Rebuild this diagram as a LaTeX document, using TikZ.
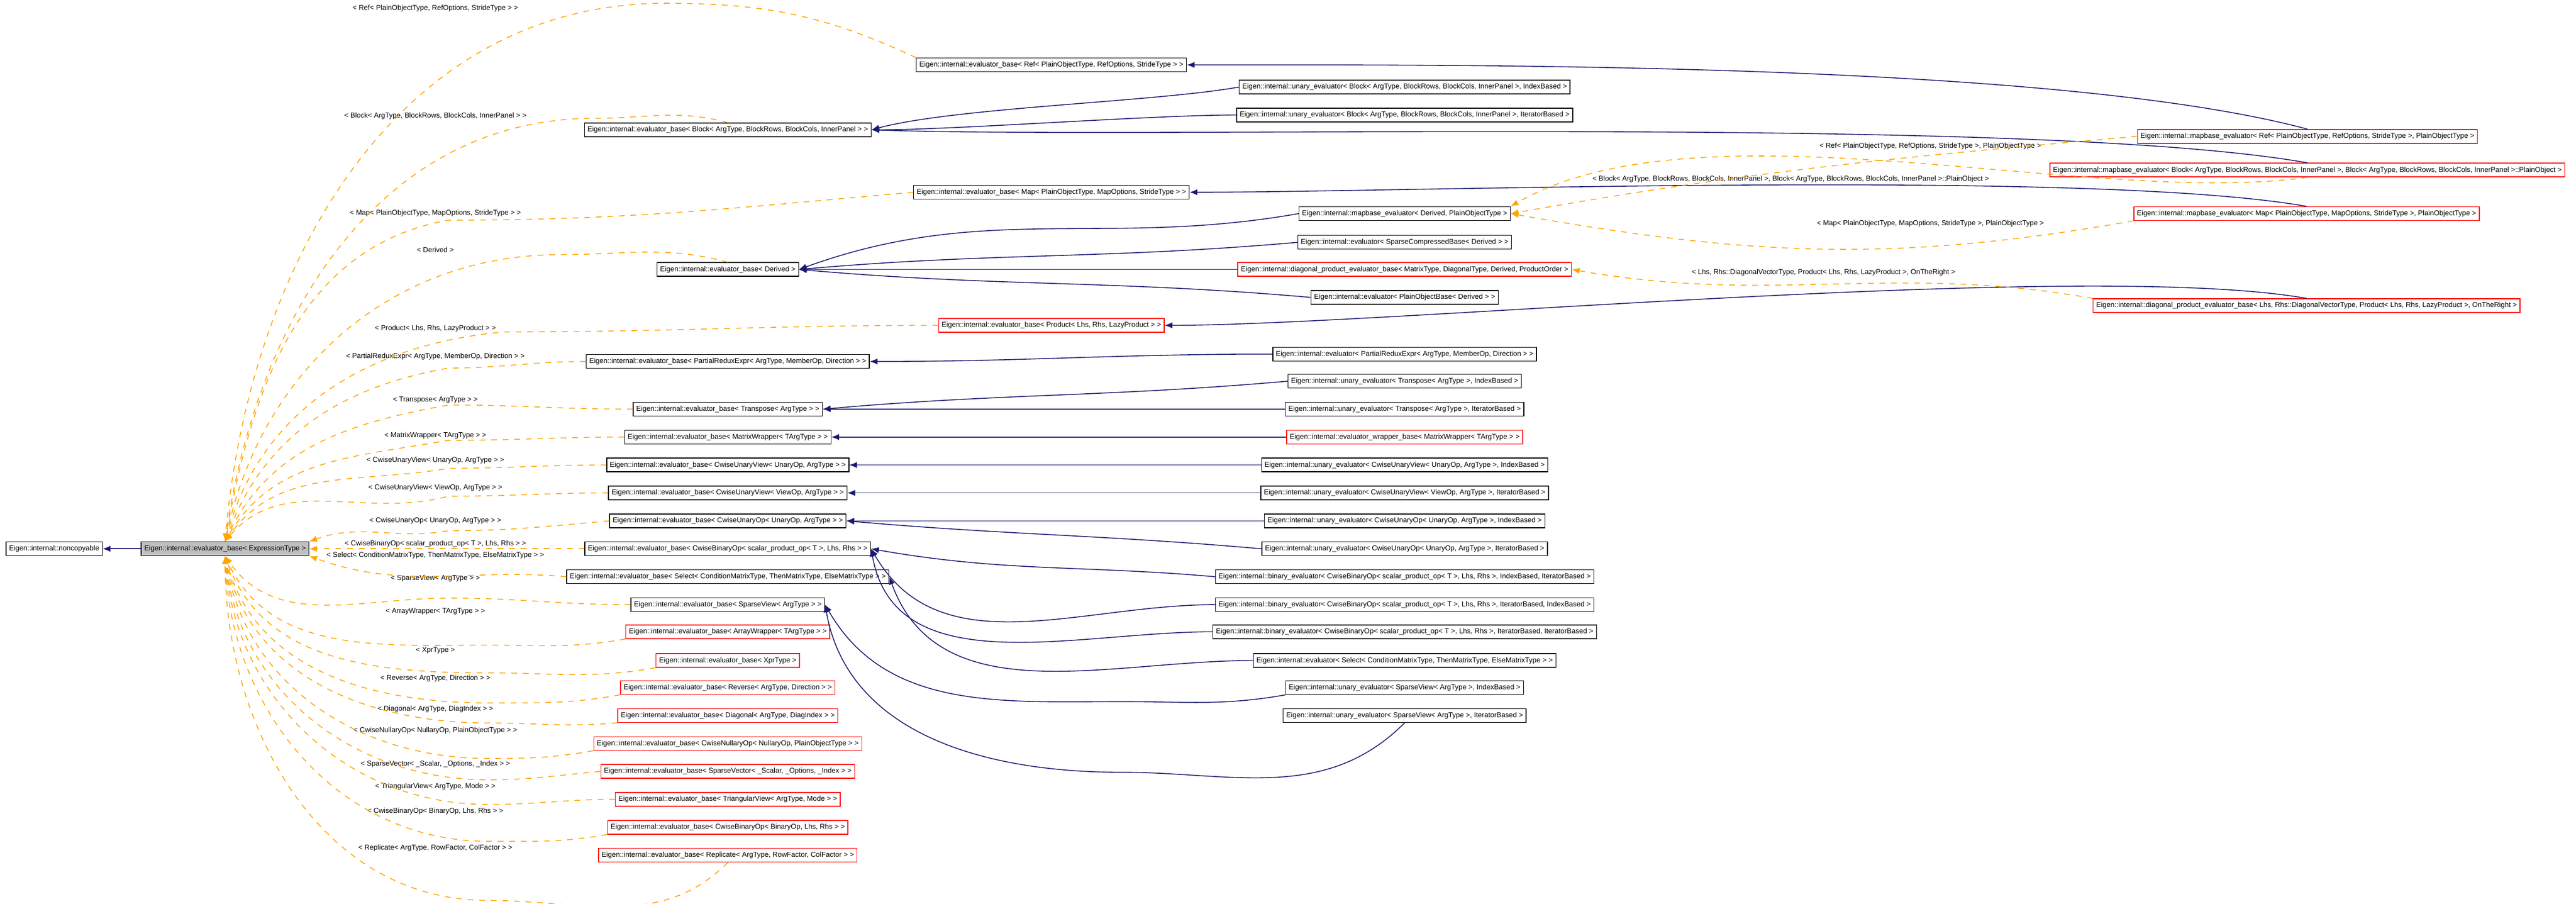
\documentclass[tikz,border=0pt]{standalone}
\usepackage{fontspec}
\setmainfont{Liberation Sans}
\usetikzlibrary{arrows.meta}
\definecolor{edgeblue}{HTML}{191970}
\definecolor{edgeorange}{HTML}{FFA500}
\tikzset{
  cls/.style={draw=black,fill=white,rectangle,inner xsep=1.6pt,inner ysep=0pt,minimum height=0.25cm,font=\fontsize{3.7}{4}\selectfont},
  redcls/.style={cls,draw=red},
  curcls/.style={cls,fill=black!25},
  lbl/.style={inner sep=0pt,font=\fontsize{3.7}{4}\selectfont},
  inh/.style={edgeblue,line width=0.45pt,-{Latex[length=4pt,width=3.2pt]}},
  tmpl/.style={edgeorange,dashed,line width=0.45pt,-{Latex[length=4pt,width=3.2pt]}}
}
\begin{document}
\begin{tikzpicture}[x=0.02992cm,y=-0.02992cm]
\useasboundingbox (0,0) rectangle (1568,550);
% left
\node[cls] (noncp) at (33,334) {Eigen::internal::noncopyable};
\node[curcls] (exprb) at (137,334) {Eigen::internal::evaluator\_base< ExpressionType >};
% instantiations of evaluator_base
\node[cls] (refb) at (640,39.5) {Eigen::internal::evaluator\_base< Ref< PlainObjectType, RefOptions, StrideType > >};
\node[cls] (blockb) at (443,79) {Eigen::internal::evaluator\_base< Block< ArgType, BlockRows, BlockCols, InnerPanel > >};
\node[cls] (mapb) at (640,117) {Eigen::internal::evaluator\_base< Map< PlainObjectType, MapOptions, StrideType > >};
\node[cls] (derivb) at (443,164) {Eigen::internal::evaluator\_base< Derived >};
\node[redcls] (prodb) at (640,198) {Eigen::internal::evaluator\_base< Product< Lhs, Rhs, LazyProduct > >};
\node[cls] (predb) at (443,220) {Eigen::internal::evaluator\_base< PartialReduxExpr< ArgType, MemberOp, Direction > >};
\node[cls] (transb) at (443,249) {Eigen::internal::evaluator\_base< Transpose< ArgType > >};
\node[cls] (mwrapb) at (443,266) {Eigen::internal::evaluator\_base< MatrixWrapper< TArgType > >};
\node[cls] (cuvub) at (443,283) {Eigen::internal::evaluator\_base< CwiseUnaryView< UnaryOp, ArgType > >};
\node[cls] (cuvvb) at (443,300) {Eigen::internal::evaluator\_base< CwiseUnaryView< ViewOp, ArgType > >};
\node[cls] (cuob) at (443,317) {Eigen::internal::evaluator\_base< CwiseUnaryOp< UnaryOp, ArgType > >};
\node[cls] (cbosb) at (443,334) {Eigen::internal::evaluator\_base< CwiseBinaryOp< scalar\_product\_op< T >, Lhs, Rhs > >};
\node[cls] (selb) at (443,351) {Eigen::internal::evaluator\_base< Select< ConditionMatrixType, ThenMatrixType, ElseMatrixType > >};
\node[cls] (spvb) at (443,368) {Eigen::internal::evaluator\_base< SparseView< ArgType > >};
\node[redcls] (awrapb) at (443,384.5) {Eigen::internal::evaluator\_base< ArrayWrapper< TArgType > >};
\node[redcls] (xprb) at (443,402) {Eigen::internal::evaluator\_base< XprType >};
\node[redcls] (revb) at (443,418.5) {Eigen::internal::evaluator\_base< Reverse< ArgType, Direction > >};
\node[redcls] (diagb) at (443,435.5) {Eigen::internal::evaluator\_base< Diagonal< ArgType, DiagIndex > >};
\node[redcls] (cnob) at (443,452.5) {Eigen::internal::evaluator\_base< CwiseNullaryOp< NullaryOp, PlainObjectType > >};
\node[redcls] (spvecb) at (443,469.5) {Eigen::internal::evaluator\_base< SparseVector< \_Scalar, \_Options, \_Index > >};
\node[redcls] (trib) at (443,486.5) {Eigen::internal::evaluator\_base< TriangularView< ArgType, Mode > >};
\node[redcls] (cbob) at (443,503.5) {Eigen::internal::evaluator\_base< CwiseBinaryOp< BinaryOp, Lhs, Rhs > >};
\node[redcls] (repb) at (443,520.5) {Eigen::internal::evaluator\_base< Replicate< ArgType, RowFactor, ColFactor > >};
% evaluators
\node[cls] (ublki) at (855,53) {Eigen::internal::unary\_evaluator< Block< ArgType, BlockRows, BlockCols, InnerPanel >, IndexBased >};
\node[cls] (ublkit) at (855,70) {Eigen::internal::unary\_evaluator< Block< ArgType, BlockRows, BlockCols, InnerPanel >, IteratorBased >};
\node[cls] (mapbe) at (855,130) {Eigen::internal::mapbase\_evaluator< Derived, PlainObjectType >};
\node[cls] (spcomp) at (855,147.5) {Eigen::internal::evaluator< SparseCompressedBase< Derived > >};
\node[redcls] (diagpe) at (855,164) {Eigen::internal::diagonal\_product\_evaluator\_base< MatrixType, DiagonalType, Derived, ProductOrder >};
\node[cls] (pobase) at (855,181) {Eigen::internal::evaluator< PlainObjectBase< Derived > >};
\node[cls] (predev) at (855,215.5) {Eigen::internal::evaluator< PartialReduxExpr< ArgType, MemberOp, Direction > >};
\node[cls] (utri) at (855,232) {Eigen::internal::unary\_evaluator< Transpose< ArgType >, IndexBased >};
\node[cls] (utrit) at (855,249) {Eigen::internal::unary\_evaluator< Transpose< ArgType >, IteratorBased >};
\node[redcls] (mwrapev) at (855,266) {Eigen::internal::evaluator\_wrapper\_base< MatrixWrapper< TArgType > >};
\node[cls] (ucuvu) at (855,283) {Eigen::internal::unary\_evaluator< CwiseUnaryView< UnaryOp, ArgType >, IndexBased >};
\node[cls] (ucuvv) at (855,300) {Eigen::internal::unary\_evaluator< CwiseUnaryView< ViewOp, ArgType >, IteratorBased >};
\node[cls] (ucuoi) at (855,317) {Eigen::internal::unary\_evaluator< CwiseUnaryOp< UnaryOp, ArgType >, IndexBased >};
\node[cls] (ucuoit) at (855,334) {Eigen::internal::unary\_evaluator< CwiseUnaryOp< UnaryOp, ArgType >, IteratorBased >};
\node[cls] (binit) at (855,351) {Eigen::internal::binary\_evaluator< CwiseBinaryOp< scalar\_product\_op< T >, Lhs, Rhs >, IndexBased, IteratorBased >};
\node[cls] (bitin) at (855,368) {Eigen::internal::binary\_evaluator< CwiseBinaryOp< scalar\_product\_op< T >, Lhs, Rhs >, IteratorBased, IndexBased >};
\node[cls] (bitit) at (855,384.5) {Eigen::internal::binary\_evaluator< CwiseBinaryOp< scalar\_product\_op< T >, Lhs, Rhs >, IteratorBased, IteratorBased >};
\node[cls] (selev) at (855,402) {Eigen::internal::evaluator< Select< ConditionMatrixType, ThenMatrixType, ElseMatrixType > >};
\node[cls] (uspvi) at (855,418.5) {Eigen::internal::unary\_evaluator< SparseView< ArgType >, IndexBased >};
\node[cls] (uspvit) at (855,435.5) {Eigen::internal::unary\_evaluator< SparseView< ArgType >, IteratorBased >};
% right
\node[redcls] (mbref) at (1404.5,83) {Eigen::internal::mapbase\_evaluator< Ref< PlainObjectType, RefOptions, StrideType >, PlainObjectType >};
\node[redcls] (mbblk) at (1404.5,103.5) {Eigen::internal::mapbase\_evaluator< Block< ArgType, BlockRows, BlockCols, InnerPanel >, Block< ArgType, BlockRows, BlockCols, InnerPanel >::PlainObject >};
\node[redcls] (mbmap) at (1404,130) {Eigen::internal::mapbase\_evaluator< Map< PlainObjectType, MapOptions, StrideType >, PlainObjectType >};
\node[redcls] (diagrt) at (1404,186) {Eigen::internal::diagonal\_product\_evaluator\_base< Lhs, Rhs::DiagonalVectorType, Product< Lhs, Rhs, LazyProduct >, OnTheRight >};
% template labels
\node[lbl] (lref) at (265,5) {< Ref< PlainObjectType, RefOptions, StrideType > >};
\node[lbl] (lblock) at (265,70.5) {< Block< ArgType, BlockRows, BlockCols, InnerPanel > >};
\node[lbl] (lmap) at (265,129.7) {< Map< PlainObjectType, MapOptions, StrideType > >};
\node[lbl] (lderiv) at (265,152) {< Derived >};
\node[lbl] (lprod) at (265,200) {< Product< Lhs, Rhs, LazyProduct > >};
\node[lbl] (lpred) at (265,217) {< PartialReduxExpr< ArgType, MemberOp, Direction > >};
\node[lbl] (ltrans) at (265,243.5) {< Transpose< ArgType > >};
\node[lbl] (lmwrap) at (265,265) {< MatrixWrapper< TArgType > >};
\node[lbl] (lcuvu) at (265,280) {< CwiseUnaryView< UnaryOp, ArgType > >};
\node[lbl] (lcuvv) at (265,297) {< CwiseUnaryView< ViewOp, ArgType > >};
\node[lbl] (lcuo) at (265,317) {< CwiseUnaryOp< UnaryOp, ArgType > >};
\node[lbl] (lcbos) at (265,331) {< CwiseBinaryOp< scalar\_product\_op< T >, Lhs, Rhs > >};
\node[lbl] (lsel) at (265,338) {< Select< ConditionMatrixType, ThenMatrixType, ElseMatrixType > >};
\node[lbl] (lspv) at (265,352) {< SparseView< ArgType > >};
\node[lbl] (lawrap) at (265,372) {< ArrayWrapper< TArgType > >};
\node[lbl] (lxpr) at (265,396) {< XprType >};
\node[lbl] (lrev) at (265,413) {< Reverse< ArgType, Direction > >};
\node[lbl] (ldiag) at (265,431.6) {< Diagonal< ArgType, DiagIndex > >};
\node[lbl] (lcno) at (265,444.5) {< CwiseNullaryOp< NullaryOp, PlainObjectType > >};
\node[lbl] (lspvec) at (265,465) {< SparseVector< \_Scalar, \_Options, \_Index > >};
\node[lbl] (ltri) at (265,478.6) {< TriangularView< ArgType, Mode > >};
\node[lbl] (lcbo) at (265,493.6) {< CwiseBinaryOp< BinaryOp, Lhs, Rhs > >};
\node[lbl] (lrep) at (265,516) {< Replicate< ArgType, RowFactor, ColFactor > >};
\node[lbl] (lmbref) at (1175,89) {< Ref< PlainObjectType, RefOptions, StrideType >, PlainObjectType >};
\node[lbl] (lmbblk) at (1090,109) {< Block< ArgType, BlockRows, BlockCols, InnerPanel >, Block< ArgType, BlockRows, BlockCols, InnerPanel >::PlainObject >};
\node[lbl] (lmbmap) at (1175,136) {< Map< PlainObjectType, MapOptions, StrideType >, PlainObjectType >};
\node[lbl] (ldiagrt) at (1110,166) {< Lhs, Rhs::DiagonalVectorType, Product< Lhs, Rhs, LazyProduct >, OnTheRight >};
% waypoints of the template edges
\coordinate (wref) at (405,2);
\coordinate (wblock) at (362,72);
\coordinate (wmap) at (273,134);
\coordinate (wderiv) at (341,155);
\coordinate (wprod) at (307,202);
\coordinate (wpred) at (273,224);
\coordinate (wtrans) at (273,246.5);
\coordinate (wmwrap) at (273,268);
\coordinate (wcuvu) at (273,285);
\coordinate (wcuvv) at (273,302);
\coordinate (wcuo) at (273,323);
\coordinate (wspv) at (273,364);
\coordinate (wawrap) at (297,392.6);
\coordinate (wxpr) at (297,409.5);
\coordinate (wrev) at (297,427.8);
\coordinate (wdiag) at (297,440);
\coordinate (wcno) at (297,461.6);
\coordinate (wspvec) at (297,474.6);
\coordinate (wtri) at (297,489.6);
\coordinate (wcbo) at (297,512);
\coordinate (wrep) at (297,548);
\coordinate (wspvi) at (684,427);
\coordinate (wspvit) at (682,470);
% inheritance
\draw[inh] (exprb) -- (noncp);
\draw[inh] (mbref.north) to[out=165,in=0,looseness=0.6] (refb.east);
\draw[inh] (ublki.west) to[out=190,in=15,looseness=0.6] (blockb.east);
\draw[inh] (ublkit.west) to[out=180,in=0,looseness=0.6] (blockb.east);
\draw[inh] (mbblk.north) to[out=170,in=-2,looseness=0.5] (blockb.east);
\draw[inh] (mbmap.north) to[out=170,in=0,looseness=0.5] (mapb.east);
\draw[inh] (mapbe.west) to[out=190,in=20] (derivb.east);
\draw[inh] (spcomp.west) to[out=185,in=5] (derivb.east);
\draw[inh] (diagpe.west) -- (derivb.east);
\draw[inh] (pobase.west) to[out=175,in=-5] (derivb.east);
\draw[inh] (diagrt.north) to[out=170,in=0,looseness=0.5] (prodb.east);
\draw[inh] (predev.west) to[out=180,in=0] (predb.east);
\draw[inh] (utri.west) to[out=185,in=5] (transb.east);
\draw[inh] (utrit.west) -- (transb.east);
\draw[inh] (mwrapev.west) -- (mwrapb.east);
\draw[inh] (ucuvu.west) -- (cuvub.east);
\draw[inh] (ucuvv.west) -- (cuvvb.east);
\draw[inh] (ucuoi.west) -- (cuob.east);
\draw[inh] (ucuoit.west) to[out=175,in=-5] (cuob.east);
\draw[inh] (binit.west) to[out=175,in=-10] (cbosb.east);
\draw[inh] (bitin.west) to[out=180,in=-60] (cbosb.east);
\draw[inh] (bitit.west) to[out=180,in=-80] (cbosb.east);
\draw[inh] (selev.west) to[out=180,in=-70] (selb.east);
\draw[inh] (uspvi.south west) to[out=190,in=0] (wspvi) to[out=180,in=-60] (spvb.east);
\draw[inh] (uspvit.south) to[out=225,in=0] (wspvit) to[out=180,in=-80] (spvb.east);
% template instances
\draw[tmpl] (refb.north west) to[out=155,in=0] (wref) to[out=180,in=85] (exprb.north);
\draw[tmpl] (blockb.north) to[out=165,in=0] (wblock) to[out=180,in=82] (exprb.north);
\draw[tmpl] (mapb.west) to[out=185,in=0] (wmap) to[out=190,in=80] (exprb.north);
\draw[tmpl] (derivb.north) to[out=165,in=0] (wderiv) to[out=180,in=78] (exprb.north);
\draw[tmpl] (prodb.west) to[out=180,in=0] (wprod) to[out=185,in=75] (exprb.north);
\draw[tmpl] (predb.west) to[out=180,in=0] (wpred) to[out=190,in=70] (exprb.north);
\draw[tmpl] (transb.west) to[out=180,in=0] (wtrans) to[out=190,in=65] (exprb.north);
\draw[tmpl] (mwrapb.west) to[out=180,in=0] (wmwrap) to[out=190,in=60] (exprb.north);
\draw[tmpl] (cuvub.west) to[out=180,in=0] (wcuvu) to[out=190,in=55] (exprb.north);
\draw[tmpl] (cuvvb.west) to[out=180,in=0] (wcuvv) to[out=195,in=50] (exprb.north);
\draw[tmpl] (cuob.west) to[out=185,in=0] (wcuo) to[out=190,in=20] (exprb.north east);
\draw[tmpl] (cbosb.west) -- (exprb.east);
\draw[tmpl] (selb.west) to[out=175,in=-20] (exprb.south east);
\draw[tmpl] (spvb.west) to[out=180,in=0] (wspv) to[out=180,in=-55] (exprb.south);
\draw[tmpl] (awrapb.south west) to[out=190,in=0] (wawrap) to[out=180,in=-65] (exprb.south);
\draw[tmpl] (xprb.south west) to[out=190,in=0] (wxpr) to[out=180,in=-70] (exprb.south);
\draw[tmpl] (revb.south west) to[out=190,in=0] (wrev) to[out=180,in=-75] (exprb.south);
\draw[tmpl] (diagb.south west) to[out=185,in=0] (wdiag) to[out=180,in=-78] (exprb.south);
\draw[tmpl] (cnob.south west) to[out=190,in=0] (wcno) to[out=180,in=-81] (exprb.south);
\draw[tmpl] (spvecb.west) to[out=185,in=0] (wspvec) to[out=180,in=-84] (exprb.south);
\draw[tmpl] (trib.west) to[out=180,in=0] (wtri) to[out=180,in=-86] (exprb.south);
\draw[tmpl] (cbob.south west) to[out=190,in=0] (wcbo) to[out=180,in=-88] (exprb.south);
\draw[tmpl] (repb.south) to[out=225,in=0] (wrep) to[out=180,in=-90] (exprb.south);
\draw[tmpl] (mbref.west) to[out=185,in=10] (mapbe.east);
\draw[tmpl] (mbblk.south) to[out=188,in=30,looseness=0.7] (mapbe.north east);
\draw[tmpl] (mbmap.south west) to[out=190,in=-10] (mapbe.east);
\draw[tmpl] (diagrt.north west) to[out=170,in=-10] (diagpe.east);
\end{tikzpicture}
\end{document}
